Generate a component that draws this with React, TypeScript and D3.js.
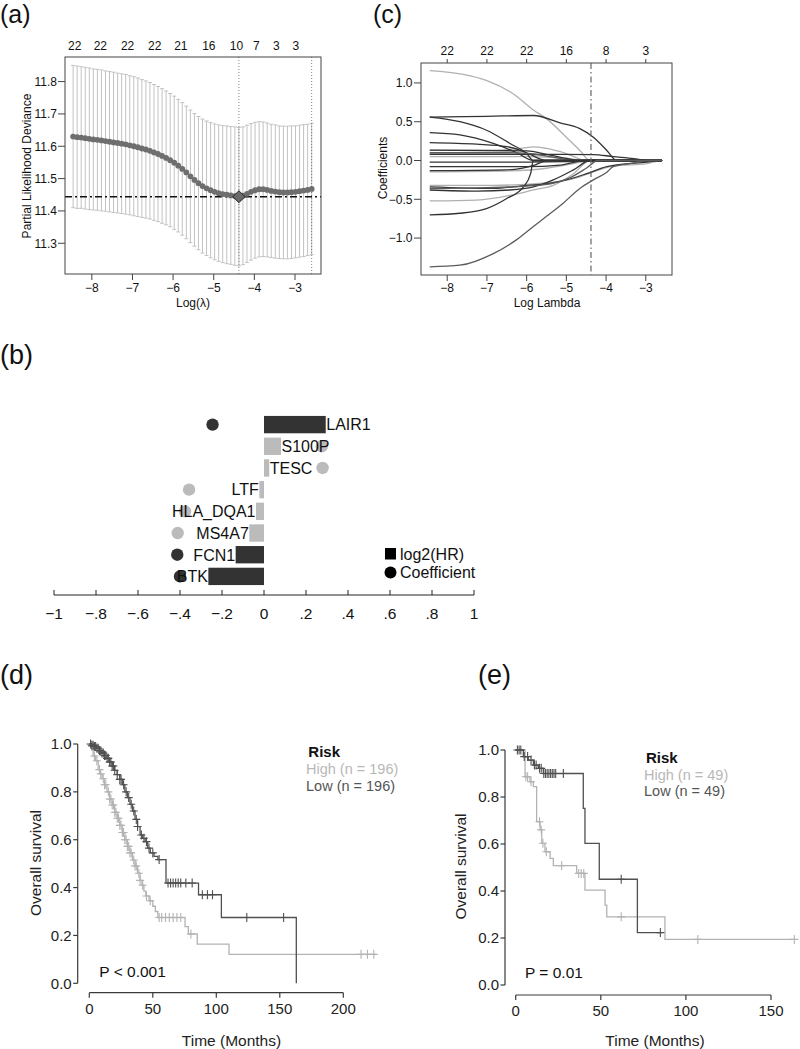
import React, { useEffect, useRef } from "react";
import * as d3 from "d3";

const FONT = "'Liberation Sans', Arial, Helvetica, sans-serif";

// ---------------- (a) cross-validated partial likelihood deviance ----------------
const cvLogLambdaStart = -8.46;
const cvLogLambdaStep = 0.0995;
const cvMean = [
  11.630, 11.628, 11.627, 11.625, 11.623, 11.621, 11.620, 11.618, 11.616, 11.614,
  11.612, 11.610, 11.608, 11.606, 11.603, 11.600, 11.597, 11.593, 11.590, 11.586,
  11.581, 11.576, 11.570, 11.564, 11.557, 11.549, 11.540, 11.530, 11.519, 11.507,
  11.496, 11.486, 11.477, 11.470, 11.464, 11.459, 11.455, 11.452, 11.450, 11.448,
  11.446, 11.444, 11.447, 11.453, 11.459, 11.464, 11.467, 11.467, 11.465, 11.462,
  11.460, 11.458, 11.457, 11.457, 11.458, 11.459, 11.461, 11.463, 11.465, 11.468,
];
const cvSd = [
  0.220, 0.220, 0.219, 0.219, 0.219, 0.218, 0.218, 0.218, 0.217, 0.217,
  0.217, 0.216, 0.216, 0.216, 0.215, 0.215, 0.214, 0.213, 0.212, 0.211,
  0.210, 0.209, 0.208, 0.207, 0.206, 0.206, 0.205, 0.205, 0.205, 0.205,
  0.205, 0.206, 0.207, 0.208, 0.209, 0.210, 0.211, 0.212, 0.213, 0.213,
  0.214, 0.214, 0.213, 0.212, 0.211, 0.210, 0.209, 0.208, 0.207, 0.206,
  0.206, 0.205, 0.205, 0.205, 0.205, 0.204, 0.204, 0.204, 0.203, 0.203,
];
const cvTopLabelAt = [-8.42, -7.79, -7.12, -6.45, -5.81, -5.12, -4.44, -3.95, -3.46, -2.98];
const cvTopLabels = ["22", "22", "22", "22", "21", "16", "10", "7", "3", "3"];
const cvXTicks = [-8, -7, -6, -5, -4, -3];
const cvYTicks = [11.3, 11.4, 11.5, 11.6, 11.7, 11.8];
const logLambdaMin = -4.38;
const logLambda1se = -2.59;

// ---------------- (c) coefficient paths ----------------
const pathXTicks = [-8, -7, -6, -5, -4, -3];
const pathTopLabels = ["22", "22", "22", "16", "8", "3"];
const pathYTicks = [-1, -0.5, 0, 0.5, 1];
const pathShades = [
  "light", "dark", "dark", "dark", "dark", "light", "dark", "dark", "mid", "light", "dark",
  "dark", "light", "dark", "dark", "dark", "light", "light", "dark", "mid", "light", "mid",
];
const coefPaths: [number, number][][] = [
  [[-8.44, 1.16], [-7.6, 1.11], [-7.0, 1.03], [-6.34, 0.86], [-5.83, 0.65], [-5.5, 0.54], [-5.0, 0.3], [-4.66, 0.13], [-4.4, 0]],
  [[-8.44, 0.56], [-7.0, 0.57], [-5.83, 0.58], [-5.16, 0.485], [-4.66, 0.41], [-4.32, 0.3], [-3.98, 0.13], [-3.73, 0]],
  [[-8.44, 0.56], [-7.68, 0.5], [-7.01, 0.39], [-6.42, 0.22], [-6.0, 0.09], [-5.83, 0]],
  [[-8.44, 0.36], [-7.68, 0.33], [-6.84, 0.22], [-6.25, 0.1], [-5.83, 0]],
  [[-8.44, 0.23], [-7.26, 0.21], [-6.5, 0.18], [-6.0, 0.1], [-5.5, 0]],
  [[-8.44, 0.13], [-6.84, 0.13], [-6.1, 0.16], [-5.83, 0.176], [-5.5, 0.155], [-5.0, 0.09], [-4.49, 0]],
  [[-8.44, 0.08], [-5.16, 0.08], [-4.32, 0.077], [-3.82, 0.05], [-3.3, 0.025], [-2.97, 0]],
  [[-8.44, 0.133], [-6.0, 0.124], [-5.5, 0.08], [-5.0, 0.026], [-4.66, 0]],
  [[-8.44, 0.1], [-6.5, 0.1], [-5.9, 0.09], [-5.3, 0.04], [-4.8, 0]],
  [[-8.44, 0.05], [-6.0, 0.05], [-5.0, 0.03], [-4.5, 0]],
  [[-8.44, -0.02], [-6.0, -0.02], [-5.0, -0.015], [-4.4, 0]],
  [[-8.44, -0.08], [-6.0, -0.08], [-5.16, -0.06], [-4.5, 0]],
  [[-8.44, -0.146], [-6.42, -0.133], [-5.5, -0.1], [-4.82, -0.04], [-4.4, 0]],
  [[-8.44, -0.13], [-6.5, -0.12], [-5.8, -0.06], [-5.5, 0]],
  [[-8.44, -0.34], [-6.84, -0.36], [-6.0, -0.32], [-5.5, -0.3], [-5.0, -0.25], [-4.49, -0.17], [-3.98, -0.08], [-2.97, -0.02], [-2.6, 0]],
  [[-8.44, -0.38], [-7.26, -0.395], [-6.42, -0.38], [-5.83, -0.34], [-5.33, -0.25], [-4.82, -0.12], [-4.4, 0]],
  [[-8.44, -0.32], [-6.84, -0.32], [-5.83, -0.3], [-5.16, -0.27], [-4.66, -0.21], [-4.32, -0.146], [-3.82, -0.073], [-2.97, -0.04], [-2.6, 0]],
  [[-8.44, -0.52], [-7.26, -0.51], [-6.42, -0.45], [-5.83, -0.38], [-5.33, -0.32], [-4.82, -0.17], [-4.4, 0]],
  [[-8.44, -0.7], [-7.68, -0.68], [-7.01, -0.62], [-6.5, -0.49], [-6.08, -0.34], [-5.9, -0.17], [-5.83, 0]],
  [[-8.44, -1.37], [-7.68, -1.35], [-6.84, -1.2], [-6.25, -1.02], [-5.83, -0.85], [-5.5, -0.72], [-5.08, -0.55], [-4.66, -0.36], [-4.32, -0.25], [-3.98, -0.15], [-3.82, -0.08], [-3.3, -0.03], [-2.97, 0]],
  [[-8.44, 0.09], [-6.5, 0.085], [-5.8, 0.07], [-5.0, 0.02], [-4.6, 0]],
  [[-8.44, -0.36], [-7.0, -0.35], [-6.0, -0.33], [-5.4, -0.3], [-4.9, -0.22], [-4.5, -0.1], [-4.2, 0]],
];
const pathLambdaMax = -2.59;

// ---------------- (b) gene bars ----------------
const genes = ["LAIR1", "S100P", "TESC", "LTF", "HLA_DQA1", "MS4A7", "FCN1", "BTK"];
const log2HR = [0.294, 0.081, 0.025, -0.022, -0.038, -0.07, -0.135, -0.265];
const coefficient = [-0.245, 0.275, 0.279, -0.357, -0.376, -0.411, -0.413, -0.4];
const geneShade = ["dark", "light", "light", "light", "light", "light", "dark", "dark"];
const bTicks = [-1, -0.8, -0.6, -0.4, -0.2, 0, 0.2, 0.4, 0.6, 0.8, 1];
const bLegend = ["log2(HR)", "Coefficient"];

// ---------------- (d) KM training ----------------
const dLowTimes = [0, 2, 4, 6, 8, 10, 12, 14, 16, 18, 20, 22, 24, 26, 28, 30, 32, 34, 36, 38, 40, 42, 44, 46, 48, 51, 54, 60.4, 86, 104, 163];
const dLowSurv = [1, 0.995, 0.99, 0.982, 0.972, 0.962, 0.952, 0.94, 0.925, 0.908, 0.89, 0.872, 0.852, 0.83, 0.8, 0.776, 0.748, 0.72, 0.685, 0.655, 0.62, 0.606, 0.592, 0.565, 0.545, 0.53, 0.517, 0.419, 0.37, 0.275, 0];
const dLowEnd = 163;
const dLowCensor = [1, 2, 3, 4, 5, 6, 7, 8, 9, 10, 11, 12, 13, 14, 15, 16, 17, 18, 19, 20, 22, 24, 25, 27, 29, 31, 33, 35, 37, 38, 41, 43, 45, 47, 50, 55, 62, 64, 66, 68, 70, 72, 76, 81, 89, 93, 97, 124, 153];
const dHighTimes = [0, 1.5, 3, 5, 7, 8.5, 10, 12, 14, 16, 18, 20, 22, 24, 26, 28, 30, 32, 34, 36, 38, 40, 41.5, 43, 44.5, 47, 50, 52, 54, 75.4, 78, 85, 110];
const dHighSurv = [1, 0.99, 0.95, 0.93, 0.893, 0.875, 0.855, 0.83, 0.8, 0.77, 0.745, 0.715, 0.69, 0.66, 0.63, 0.6, 0.572, 0.545, 0.515, 0.49, 0.46, 0.43, 0.41, 0.385, 0.365, 0.345, 0.322, 0.3, 0.275, 0.237, 0.206, 0.164, 0.121];
const dHighEnd = 226;
const dHighCensor = [2, 4, 6, 8, 9, 11, 12, 13, 15, 16, 17, 18, 19, 20, 21, 22, 23, 24, 25, 26, 27, 28, 29, 30, 31, 32, 33, 35, 36, 37, 39, 40, 42, 45, 48, 55, 57, 60, 63, 66, 69, 72, 80, 214, 219, 224];
const dXTicks = [0, 50, 100, 150, 200];
const kmYTicks = [0, 0.2, 0.4, 0.6, 0.8, 1];

// ---------------- (e) KM validation ----------------
const eLowTimes = [0, 4.5, 7.4, 10.4, 13.3, 16.2, 39.7, 40.7, 49.1, 71.5];
const eLowSurv = [1, 0.972, 0.957, 0.936, 0.922, 0.9, 0.752, 0.603, 0.45, 0.223];
const eLowEnd = 86;
const eLowCensor = [1, 2, 3, 5, 7, 9, 11, 12, 14, 15, 16.5, 17.5, 18.5, 19.5, 20.5, 21.5, 22.5, 23.5, 28, 62, 85];
const eHighTimes = [0, 5.5, 8.4, 10.4, 12.3, 14.3, 15.3, 17.2, 20.2, 22.1, 35.8, 40.7, 52.5, 53.5, 87.7];
const eHighSurv = [1, 0.886, 0.865, 0.844, 0.695, 0.66, 0.603, 0.567, 0.539, 0.508, 0.475, 0.404, 0.34, 0.29, 0.194];
const eHighEnd = 164;
const eHighCensor = [6, 7, 9, 14, 15, 16, 18, 27, 37, 38.5, 40, 62, 107, 163.7];
const eXTicks = [0, 50, 100, 150];

const SHADE: Record<string, string> = { dark: "#333333", mid: "#5c5c5c", light: "#b0b0b0" };
const LOW_COL = "#505050";
const HIGH_COL = "#b3b3b3";

type Sel = d3.Selection<SVGGElement, unknown, null, undefined>;

function txt(g: Sel, x: number, y: number, s: string, size: number, anchor = "start", fill = "#111", weight = "normal") {
  return g.append("text").attr("x", x).attr("y", y).attr("font-size", size).attr("font-family", FONT)
    .attr("text-anchor", anchor).attr("fill", fill).attr("font-weight", weight).text(s);
}

function drawA(g: Sel) {
  const x = d3.scaleLinear().domain([-8.66, -2.36]).range([65, 321]);
  const y = d3.scaleLinear().domain([11.205, 11.876]).range([274, 57]);
  const ll = cvMean.map((_, i) => cvLogLambdaStart + i * cvLogLambdaStep);
  const rows = ll.map((l, i) => ({ l, m: cvMean[i], s: cvSd[i] }));
  g.selectAll("line.eb").data(rows).join("line").attr("class", "eb")
    .attr("x1", d => x(d.l)).attr("x2", d => x(d.l)).attr("y1", d => y(d.m + d.s)).attr("y2", d => y(d.m - d.s))
    .attr("stroke", "#c2c2c2").attr("stroke-width", 1);
  ["up", "lo"].forEach(k => {
    g.selectAll(`line.cap${k}`).data(rows).join("line").attr("class", `cap${k}`)
      .attr("x1", d => x(d.l) - 2).attr("x2", d => x(d.l) + 2)
      .attr("y1", d => y(k === "up" ? d.m + d.s : d.m - d.s)).attr("y2", d => y(k === "up" ? d.m + d.s : d.m - d.s))
      .attr("stroke", "#c2c2c2").attr("stroke-width", 1);
  });
  const minM = d3.min(cvMean) as number;
  g.append("line").attr("x1", 65).attr("x2", 321).attr("y1", y(minM)).attr("y2", y(minM))
    .attr("stroke", "#111").attr("stroke-width", 1.6).attr("stroke-dasharray", "7 3 2 3");
  [logLambdaMin, logLambda1se].forEach(v => {
    g.append("line").attr("x1", x(v)).attr("x2", x(v)).attr("y1", 57).attr("y2", 274)
      .attr("stroke", "#666").attr("stroke-width", 0.8).attr("stroke-dasharray", "1 2");
  });
  g.selectAll("circle.m").data(rows).join("circle").attr("class", "m")
    .attr("cx", d => x(d.l)).attr("cy", d => y(d.m)).attr("r", 2.9).attr("fill", "#6e6e6e");
  const dx = x(logLambdaMin), dy = y(minM);
  g.append("path").attr("d", `M${dx},${dy - 6}L${dx + 6},${dy}L${dx},${dy + 6}L${dx - 6},${dy}Z`)
    .attr("fill", "#6a6a6a").attr("stroke", "#222").attr("stroke-width", 1);
  g.append("rect").attr("x", 65).attr("y", 57).attr("width", 256).attr("height", 217)
    .attr("fill", "none").attr("stroke", "#444").attr("stroke-width", 1);
  cvYTicks.forEach(t => {
    g.append("line").attr("x1", 58).attr("x2", 65).attr("y1", y(t)).attr("y2", y(t)).attr("stroke", "#444");
    txt(g, 57, y(t) + 4.3, d3.format(".1f")(t), 12, "end");
  });
  cvXTicks.forEach(t => {
    g.append("line").attr("x1", x(t)).attr("x2", x(t)).attr("y1", 274).attr("y2", 280).attr("stroke", "#444");
    txt(g, x(t), 292, d3.format("d")(t), 12, "middle");
  });
  cvTopLabelAt.forEach((p, i) => txt(g, x(p), 49.5, cvTopLabels[i], 12, "middle"));
  txt(g, 193, 307, "Log(λ)", 12, "middle");
  txt(g, 0, 0, "Partial Likelihood Deviance", 12, "middle").attr("transform", "translate(31,166) rotate(-90)");
  txt(g, 0, 23, "(a)", 25);
}

function drawC(g: Sel) {
  const x = d3.scaleLinear().domain([-8.66, -2.34]).range([421, 672]);
  const y = d3.scaleLinear().domain([-1.476, 1.257]).range([275, 63]);
  const line = d3.line<[number, number]>().x(d => x(d[0])).y(d => y(d[1])).curve(d3.curveMonotoneX);
  const order = coefPaths.map((p, i) => i).sort((a, b) => (pathShades[a] === "light" ? -1 : 0) - (pathShades[b] === "light" ? -1 : 0));
  order.forEach(i => {
    const p = coefPaths[i].slice();
    const last = p[p.length - 1];
    if (last[0] < pathLambdaMax) p.push([pathLambdaMax, 0]);
    g.append("path").attr("d", line(p) as string).attr("fill", "none")
      .attr("stroke", SHADE[pathShades[i]]).attr("stroke-width", 1.3);
  });
  g.append("line").attr("x1", x(logLambdaMin)).attr("x2", x(logLambdaMin)).attr("y1", 63).attr("y2", 275)
    .attr("stroke", "#666").attr("stroke-width", 1.2).attr("stroke-dasharray", "6 3 1.5 3");
  g.append("rect").attr("x", 421).attr("y", 63).attr("width", 251).attr("height", 212)
    .attr("fill", "none").attr("stroke", "#444").attr("stroke-width", 1);
  pathYTicks.forEach(t => {
    g.append("line").attr("x1", 414).attr("x2", 421).attr("y1", y(t)).attr("y2", y(t)).attr("stroke", "#444");
    txt(g, 412.5, y(t) + 4.3, d3.format(".1f")(t), 12, "end");
  });
  pathXTicks.forEach((t, i) => {
    g.append("line").attr("x1", x(t)).attr("x2", x(t)).attr("y1", 275).attr("y2", 281).attr("stroke", "#444");
    txt(g, x(t), 292, d3.format("d")(t), 12, "middle");
    g.append("line").attr("x1", x(t)).attr("x2", x(t)).attr("y1", 63).attr("y2", 59).attr("stroke", "#444");
    txt(g, x(t), 54.5, pathTopLabels[i], 12, "middle");
  });
  txt(g, 547, 307, "Log Lambda", 12, "middle");
  txt(g, 0, 0, "Coefficients", 12, "middle").attr("transform", "translate(387,168) rotate(-90)");
  txt(g, 373, 23, "(c)", 25);
}

function drawB(g: Sel) {
  const x = d3.scaleLinear().domain([-1, 1]).range([54, 474]);
  const yb = d3.scaleBand().domain(genes).range([411.6, 589.4]).padding(0.2);
  const rows = genes.map((gname, i) => ({ g: gname, hr: log2HR[i], c: coefficient[i], col: SHADE[geneShade[i]] }));
  g.selectAll("circle.pt").data(rows).join("circle").attr("class", "pt")
    .attr("cx", d => x(d.c)).attr("cy", d => (yb(d.g) as number) + yb.bandwidth() / 2).attr("r", 6.2)
    .attr("fill", d => (d.col === SHADE.light ? "#bbbbbb" : "#333333"));
  g.selectAll("rect.bar").data(rows).join("rect").attr("class", "bar")
    .attr("x", d => x(Math.min(0, d.hr))).attr("width", d => Math.abs(x(d.hr) - x(0)))
    .attr("y", d => yb(d.g) as number).attr("height", yb.bandwidth())
    .attr("fill", d => (d.col === SHADE.light ? "#bbbbbb" : "#333333"));
  rows.forEach(d => {
    const cy = (yb(d.g) as number) + yb.bandwidth() / 2;
    txt(g, x(d.hr) + (d.hr >= 0 ? 0.5 : -0.5), cy + 5.8, d.g, 16, d.hr >= 0 ? "start" : "end", "#111");
  });
  g.append("line").attr("x1", x(-1)).attr("x2", x(1)).attr("y1", 595).attr("y2", 595).attr("stroke", "#222").attr("stroke-width", 1);
  const fmt = (v: number) => (Math.abs(v) < 1e-9 ? "0" : (v < 0 ? "−" : "") + (Math.abs(v) === 1 ? "1" : "." + Math.round(Math.abs(v) * 10)));
  bTicks.forEach(t => {
    g.append("line").attr("x1", x(t)).attr("x2", x(t)).attr("y1", 595).attr("y2", 590).attr("stroke", "#222");
    txt(g, x(t), 619, fmt(t), 15.5, "middle");
  });
  g.append("rect").attr("x", 385).attr("y", 548).attr("width", 11).attr("height", 11.5).attr("fill", "#000");
  txt(g, 400, 559.5, bLegend[0], 16);
  g.append("circle").attr("cx", 390.5).attr("cy", 572.5).attr("r", 6).attr("fill", "#000");
  txt(g, 400, 578, bLegend[1], 16);
  txt(g, 0, 364, "(b)", 27);
}

function stepPoints(times: number[], surv: number[], end: number): [number, number][] {
  const pts: [number, number][] = times.map((t, i) => [t, surv[i]]);
  if (end > times[times.length - 1]) pts.push([end, surv[surv.length - 1]]);
  return pts;
}
function survAt(times: number[], surv: number[], t: number) {
  const i = d3.bisectRight(times, t) - 1;
  return surv[Math.max(0, i)];
}

function drawKM(
  g: Sel, x: d3.ScaleLinear<number, number>, y: d3.ScaleLinear<number, number>,
  series: { times: number[]; surv: number[]; end: number; censor: number[]; col: string }[]
) {
  const line = d3.line<[number, number]>().x(d => x(d[0])).y(d => y(d[1])).curve(d3.curveStepAfter);
  series.forEach(s => {
    g.append("path").attr("d", line(stepPoints(s.times, s.surv, s.end)) as string)
      .attr("fill", "none").attr("stroke", s.col).attr("stroke-width", 1.3);
    g.selectAll(null).data(s.censor).join("path")
      .attr("d", t => {
        const cx = x(t), cy = y(survAt(s.times, s.surv, t));
        return `M${cx - 4},${cy}H${cx + 4}M${cx},${cy - 4.5}V${cy + 4.5}`;
      })
      .attr("stroke", s.col).attr("stroke-width", 1.1).attr("fill", "none");
  });
}

function kmAxes(g: Sel, x: d3.ScaleLinear<number, number>, y: d3.ScaleLinear<number, number>, axX: number, axY: number, xticks: number[]) {
  const c = "#3a3a3a";
  g.append("line").attr("x1", axX).attr("x2", axX).attr("y1", y(0)).attr("y2", y(1)).attr("stroke", c).attr("stroke-width", 1.2);
  kmYTicks.forEach(t => {
    g.append("line").attr("x1", axX - 4.5).attr("x2", axX).attr("y1", y(t)).attr("y2", y(t)).attr("stroke", c).attr("stroke-width", 1.2);
    txt(g, axX - 6, y(t) + 5.3, d3.format(".1f")(t), 15, "end", "#222");
  });
  const x0 = x(xticks[0]), x1 = x(xticks[xticks.length - 1]);
  g.append("line").attr("x1", x0).attr("x2", x1).attr("y1", axY).attr("y2", axY).attr("stroke", c).attr("stroke-width", 1.2);
  xticks.forEach(t => {
    g.append("line").attr("x1", x(t)).attr("x2", x(t)).attr("y1", axY).attr("y2", axY + 5).attr("stroke", c).attr("stroke-width", 1.2);
    txt(g, x(t), axY + 21, d3.format("d")(t), 15, "middle", "#222");
  });
}

function drawD(g: Sel) {
  const x = d3.scaleLinear().domain([0, 200]).range([89.3, 343.3]);
  const y = d3.scaleLinear().domain([0, 1]).range([983.3, 744]);
  drawKM(g, x, y, [
    { times: dHighTimes, surv: dHighSurv, end: dHighEnd, censor: dHighCensor, col: HIGH_COL },
    { times: dLowTimes, surv: dLowSurv, end: dLowEnd, censor: dLowCensor, col: LOW_COL },
  ]);
  kmAxes(g, x, y, 77.7, 992.7, dXTicks);
  txt(g, 231.5, 1045.5, "Time (Months)", 15.5, "middle", "#222");
  txt(g, 0, 0, "Overall survival", 15.5, "middle", "#222").attr("transform", "translate(40.5,863) rotate(-90)");
  txt(g, 308.3, 757, "Risk", 15, "start", "#111", "bold");
  txt(g, 306, 774.3, "High (n = 196)", 14.5, "start", "#b8b8b8");
  txt(g, 306, 791.3, "Low (n = 196)", 14.5, "start", "#555");
  txt(g, 99.3, 976.5, "P < 0.001", 15.5, "start", "#111");
  txt(g, 0, 684, "(d)", 27);
}

function drawE(g: Sel) {
  const x = d3.scaleLinear().domain([0, 150]).range([515.7, 771]);
  const y = d3.scaleLinear().domain([0, 1]).range([985, 750]);
  drawKM(g, x, y, [
    { times: eHighTimes, surv: eHighSurv, end: eHighEnd, censor: eHighCensor, col: HIGH_COL },
    { times: eLowTimes, surv: eLowSurv, end: eLowEnd, censor: eLowCensor, col: LOW_COL },
  ]);
  kmAxes(g, x, y, 505, 995, eXTicks);
  txt(g, 655, 1045.5, "Time (Months)", 15.5, "middle", "#222");
  txt(g, 0, 0, "Overall survival", 15.5, "middle", "#222").attr("transform", "translate(465.5,866.5) rotate(-90)");
  txt(g, 646, 762.5, "Risk", 15, "start", "#111", "bold");
  txt(g, 644, 779.5, "High (n = 49)", 14.5, "start", "#b8b8b8");
  txt(g, 644, 796.3, "Low (n = 49)", 14.5, "start", "#555");
  txt(g, 525, 977.5, "P = 0.01", 15.5, "start", "#111");
  txt(g, 478, 684, "(e)", 27);
}

export default function App() {
  const ref = useRef<SVGSVGElement | null>(null);
  useEffect(() => {
    if (!ref.current) return;
    const svg = d3.select(ref.current);
    svg.selectAll("*").remove();
    svg.append("rect").attr("width", 800).attr("height", 1049).attr("fill", "#fff");
    const root = svg.append("g") as unknown as Sel;
    drawA(root.append("g") as unknown as Sel);
    drawC(root.append("g") as unknown as Sel);
    drawB(root.append("g") as unknown as Sel);
    drawD(root.append("g") as unknown as Sel);
    drawE(root.append("g") as unknown as Sel);
  }, []);
  return (
    <svg ref={ref} width={800} height={1049} viewBox="0 0 800 1049"
      style={{ position: "absolute", left: 0, top: 0, display: "block" }} />
  );
}
